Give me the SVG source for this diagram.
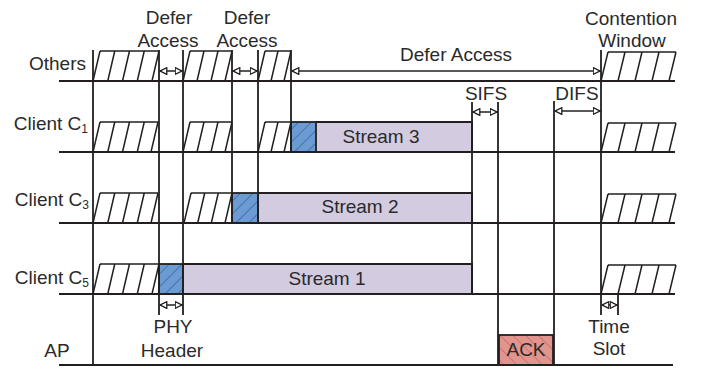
<svg xmlns="http://www.w3.org/2000/svg" width="709" height="371" viewBox="0 0 709 371">
  <defs>
    <style>
      .ln { stroke: #231f20; stroke-width: 2; fill: none; }
      .vl { stroke: #231f20; stroke-width: 1.8; fill: none; }
      .ht { stroke: #231f20; stroke-width: 1.5; fill: none; }
      .ar { stroke: #231f20; stroke-width: 1.5; fill: none; marker-start: url(#tri); marker-end: url(#tri); }
      .tx { font-family: "Liberation Sans", Arial, sans-serif; font-size: 19px; fill: #2a2a2a; }
      .mid { text-anchor: middle; }
      .end { text-anchor: end; }
      .phy { fill: url(#blueHatch); stroke: #231f20; stroke-width: 1.8; }
      .data { fill: #d3cbe0; }
      .ack { fill: url(#redHatch); stroke: #231f20; stroke-width: 1.8; }
    </style>
    <marker id="tri" viewBox="0 0 8 8" refX="8" refY="4" markerWidth="8" markerHeight="8" markerUnits="userSpaceOnUse" orient="auto-start-reverse">
      <path d="M0.7,0.7 L7.3,4 L0.7,7.3 Z" fill="#fff" stroke="#231f20" stroke-width="1.3"/>
    </marker>
    <pattern id="blueHatch" width="9" height="9" patternUnits="userSpaceOnUse" patternTransform="rotate(-45)">
      <rect width="9" height="9" fill="#6b9bd2"/>
      <line x1="0" y1="0" x2="9" y2="0" stroke="#3d6aa6" stroke-width="1.6"/>
    </pattern>
    <pattern id="redHatch" width="9" height="9" patternUnits="userSpaceOnUse" patternTransform="rotate(45)">
      <rect width="9" height="9" fill="#e0968f"/>
      <line x1="0" y1="0" x2="9" y2="0" stroke="#cc625b" stroke-width="1.4"/>
    </pattern>
  </defs>

  <rect width="709" height="371" fill="#fff"/>

  <!-- filled frames: PHY headers, payloads, ACK -->
  <g id="frames">
    <rect class="data" x="316" y="122" width="156" height="30"/>
    <rect class="data" x="258" y="193" width="214" height="30"/>
    <rect class="data" x="183" y="264" width="289" height="30"/>
    <path class="ln" d="M316,122 H472 V152 M258,193 H472 V223 M183,264 H472 V294"/>
    <rect class="phy" x="291" y="122" width="25" height="30"/>
    <rect class="phy" x="232" y="193" width="26" height="30"/>
    <rect class="phy" x="159" y="264" width="24" height="30"/>
    <rect class="ack" x="499" y="335" width="54" height="30"/>
  </g>

  <!-- busy / backoff blocks (slanted hatching) -->
  <g id="busy-others">
    <path class="ht" d="M100,51 H159 M93,81 L100,51 M107.75,81 L114.75,51 M122.5,81 L129.5,51 M137.25,81 L144.25,51 M152,81 L159,51"/>
    <path class="ht" d="M190,51 H232 M183,81 L190,51 M197,81 L204,51 M211,81 L218,51 M225,81 L232,51"/>
    <path class="ht" d="M265,51 H291 M258,81 L265,51 M271,81 L278,51 M284,81 L291,51"/>
    <path class="ht" d="M608,52 H676 M601,81 L608,52 M618,81 L625,52 M635,81 L642,52 M652,81 L659,52 M669,81 L676,52"/>
  </g>
  <g id="busy-c1">
    <path class="ht" d="M100,122 H158 M93,152 L100,122 M107.75,152 L114.75,122 M122.5,152 L129.5,122 M137.25,152 L144.25,122 M151,152 L158,122"/>
    <path class="ht" d="M190,122 H232 M183,152 L190,122 M197,152 L204,122 M211,152 L218,122 M225,152 L232,122"/>
    <path class="ht" d="M265,122 H291 M258,152 L265,122 M271,152 L278,122 M284,152 L291,122"/>
    <path class="ht" d="M608,123 H676 M601,152 L608,123 M618,152 L625,123 M635,152 L642,123 M652,152 L659,123 M669,152 L676,123"/>
  </g>
  <g id="busy-c3">
    <path class="ht" d="M100,193 H158 M93,223 L100,193 M107.75,223 L114.75,193 M122.5,223 L129.5,193 M137.25,223 L144.25,193 M151,223 L158,193"/>
    <path class="ht" d="M191,193 H232 M184,223 L191,193 M197.7,223 L204.7,193 M211.3,223 L218.3,193 M225,223 L232,193"/>
    <path class="ht" d="M608,194 H676 M601,223 L608,194 M618,223 L625,194 M635,223 L642,194 M652,223 L659,194 M669,223 L676,194"/>
  </g>
  <g id="busy-c5">
    <path class="ht" d="M100,264 H159 M93,294 L100,264 M107.75,294 L114.75,264 M122.5,294 L129.5,264 M137.25,294 L144.25,264 M152,294 L159,264"/>
    <path class="ht" d="M608,265 H676 M601,294 L608,265 M618,294 L625,265 M635,294 L642,265 M652,294 L659,265 M669,294 L676,265"/>
  </g>

  <!-- time axes and boundary markers -->
  <g id="axes">
    <path class="ln" d="M59,81 H675 M59,152 H675 M59,223 H675 M59,294 H675 M59,365 H673"/>
    <path class="vl" d="M93,50 V365 M159,50 V315 M183,50 V315 M232,50 V223 M258,50 V223 M291,50 V152 M472,102 V294 M498,102 V365 M554,101 V365 M601,50 V315 M618,294 V315"/>
  </g>

  <!-- interval arrows -->
  <g id="connectors">
    <line class="ar" x1="159.5" y1="71" x2="182.5" y2="71"/>
    <line class="ar" x1="232.5" y1="71" x2="257.5" y2="71"/>
    <line class="ar" x1="291.5" y1="71" x2="600.5" y2="71"/>
    <line class="ar" x1="472.5" y1="112" x2="497.5" y2="112"/>
    <line class="ar" x1="554.5" y1="111" x2="600.5" y2="111"/>
    <line class="ar" x1="159.5" y1="305" x2="182.5" y2="305"/>
    <line class="ar" x1="601.5" y1="305" x2="617.5" y2="305"/>
  </g>

  <!-- row names -->
  <g id="rows">
    <text class="tx end" x="86" y="70">Others</text>
    <text class="tx end" x="88" y="130">Client C<tspan font-size="12" dy="3">1</tspan></text>
    <text class="tx end" x="89" y="206">Client C<tspan font-size="12" dy="3">3</tspan></text>
    <text class="tx end" x="89" y="284">Client C<tspan font-size="12" dy="3">5</tspan></text>
    <text class="tx mid" x="57" y="357">AP</text>
  </g>

  <!-- annotations -->
  <g id="labels">
    <text class="tx mid" x="169" y="24">Defer</text>
    <text class="tx mid" x="168" y="47">Access</text>
    <text class="tx mid" x="247" y="24">Defer</text>
    <text class="tx mid" x="247" y="47">Access</text>
    <text class="tx mid" x="456" y="61">Defer Access</text>
    <text class="tx mid" x="631" y="25">Contention</text>
    <text class="tx mid" x="632" y="47">Window</text>
    <text class="tx mid" x="486" y="100">SIFS</text>
    <text class="tx mid" x="577" y="100">DIFS</text>
    <text class="tx mid" x="381" y="143">Stream 3</text>
    <text class="tx mid" x="360" y="213">Stream 2</text>
    <text class="tx mid" x="327" y="285">Stream 1</text>
    <text class="tx mid" x="173" y="333">PHY</text>
    <text class="tx mid" x="172" y="357">Header</text>
    <text class="tx mid" x="526" y="356">ACK</text>
    <text class="tx mid" x="609" y="333">Time</text>
    <text class="tx mid" x="609" y="355">Slot</text>
  </g>
</svg>
